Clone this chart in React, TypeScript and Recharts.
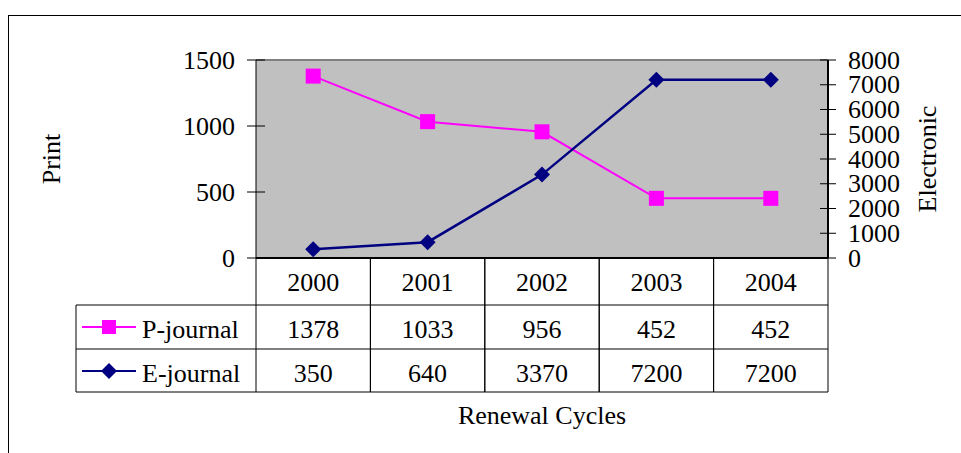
import { ComposedChart, Line, XAxis, YAxis, CartesianGrid, ReferenceLine } from "recharts";

const years = ["2000", "2001", "2002", "2003", "2004"];
const printJournals = [1378, 1033, 956, 452, 452];
const eJournals = [350, 640, 3370, 7200, 7200];
const printTicks = [0, 500, 1000, 1500];
const electronicTicks = [0, 1000, 2000, 3000, 4000, 5000, 6000, 7000, 8000];
const seriesNames = ["P-journal", "E-journal"];

const data = years.map((year, i) => ({
  year,
  print: printJournals[i],
  electronic: eJournals[i],
}));

const FONT = "'Liberation Serif', 'Times New Roman', serif";
const PINK = "#FF00FF";
const NAVY = "#000080";

function Square({ cx, cy, size = 15 }: any) {
  if (cx == null || cy == null) return null;
  return <rect x={cx - size / 2} y={cy - size / 2} width={size} height={size} fill={PINK} />;
}

function Diamond({ cx, cy, size = 8 }: any) {
  if (cx == null || cy == null) return null;
  return (
    <polygon
      points={`${cx},${cy - size} ${cx + size},${cy} ${cx},${cy + size} ${cx - size},${cy}`}
      fill={NAVY}
    />
  );
}

function LeftTick({ x, y, payload }: any) {
  const edge = x + 12;
  return (
    <g>
      <line x1={edge} x2={edge + 18} y1={y} y2={y} stroke="#000" />
      <text x={x} y={y} textAnchor="end" dominantBaseline="central" fontSize={26} fontFamily={FONT} fill="#000">
        {payload.value}
      </text>
    </g>
  );
}

function RightTick({ x, y, payload }: any) {
  const edge = x - 12;
  return (
    <g>
      <line x1={edge} x2={edge - 16} y1={y} y2={y} stroke="#000" />
      <text x={x} y={y} textAnchor="start" dominantBaseline="central" fontSize={26} fontFamily={FONT} fill="#000">
        {payload.value}
      </text>
    </g>
  );
}

// data table under the plot, one column per category tick
function TableTick({ x, y, payload, index }: any) {
  const half = payload.offset || 57;
  const left = x - half;
  const right = x + half;
  const rows = [47, 91, 134];
  const txt = { fontSize: 26, fontFamily: FONT, fill: "#000", dominantBaseline: "central" as const };
  const legendLeft = left - 180;
  return (
    <g>
      <line x1={left} x2={left} y1={y} y2={y + rows[2]} stroke="#000" />
      <line x1={right} x2={right} y1={y} y2={y + rows[2]} stroke="#000" />
      {rows.map((r) => (
        <line key={r} x1={left} x2={right} y1={y + r} y2={y + r} stroke="#000" />
      ))}
      <text x={x} y={y + 24} textAnchor="middle" {...txt}>{payload.value}</text>
      <text x={x} y={y + 71} textAnchor="middle" {...txt}>{printJournals[index]}</text>
      <text x={x} y={y + 115} textAnchor="middle" {...txt}>{eJournals[index]}</text>
      {index === 0 && (
        <g>
          <line x1={legendLeft} x2={legendLeft} y1={y + rows[0]} y2={y + rows[2]} stroke="#000" />
          {rows.map((r) => (
            <line key={r} x1={legendLeft} x2={left} y1={y + r} y2={y + r} stroke="#000" />
          ))}
          <line x1={legendLeft + 6} x2={legendLeft + 60} y1={y + 69} y2={y + 69} stroke={PINK} strokeWidth={2} />
          <Square cx={legendLeft + 33} cy={y + 69} size={14} />
          <text x={legendLeft + 66} y={y + 71} {...txt}>{seriesNames[0]}</text>
          <line x1={legendLeft + 6} x2={legendLeft + 60} y1={y + 113} y2={y + 113} stroke={NAVY} strokeWidth={2} />
          <Diamond cx={legendLeft + 33} cy={y + 113} size={8} />
          <text x={legendLeft + 66} y={y + 115} {...txt}>{seriesNames[1]}</text>
        </g>
      )}
    </g>
  );
}

function PrintLabel({ viewBox }: any) {
  const cx = viewBox.x + 51;
  const cy = viewBox.y + viewBox.height / 2;
  return (
    <text x={cx} y={cy} transform={`rotate(-90 ${cx} ${cy})`} textAnchor="middle" dominantBaseline="central" fontSize={26} fontFamily={FONT} fill="#000">
      Print
    </text>
  );
}

function ElectronicLabel({ viewBox }: any) {
  const cx = viewBox.x + 99;
  const cy = viewBox.y + viewBox.height / 2;
  return (
    <text x={cx} y={cy} transform={`rotate(-90 ${cx} ${cy})`} textAnchor="middle" dominantBaseline="central" fontSize={26} fontFamily={FONT} fill="#000">
      Electronic
    </text>
  );
}

function CycleLabel({ viewBox }: any) {
  return (
    <text x={viewBox.x + viewBox.width / 2} y={viewBox.y + 157} textAnchor="middle" dominantBaseline="central" fontSize={26} fontFamily={FONT} fill="#000">
      Renewal Cycles
    </text>
  );
}

export default function App() {
  return (
    <div style={{ position: "absolute", left: 0, top: 0, width: 961, height: 453, overflow: "hidden", background: "#fff" }}>
      <div style={{ position: "absolute", left: 8, top: 15, width: 1000, height: 500, border: "1px solid #000" }} />
      <div style={{ position: "absolute", left: 0, top: 0 }}>
        <ComposedChart width={961} height={453} data={data} margin={{ top: 60, right: 0, bottom: 0, left: 0 }}>
          <CartesianGrid fill="#C0C0C0" horizontal={false} vertical={false} yAxisId="left" />
          <ReferenceLine yAxisId="left" y={1500} stroke="#808080" strokeWidth={2} />
          <XAxis
            dataKey="year"
            scale="band"
            height={195}
            tickSize={0}
            tickMargin={0}
            tickLine={false}
            axisLine={{ stroke: "#000", strokeWidth: 2 }}
            tick={<TableTick />}
            interval={0}
            label={{ content: CycleLabel }}
          />
          <YAxis
            yAxisId="left"
            orientation="left"
            width={256}
            domain={[0, 1500]}
            ticks={printTicks}
            tickSize={9}
            tickMargin={12}
            tickLine={false}
            axisLine={{ stroke: "#000" }}
            tick={<LeftTick />}
            interval={0}
            label={{ content: PrintLabel }}
          />
          <YAxis
            yAxisId="right"
            orientation="right"
            width={133}
            domain={[0, 8000]}
            ticks={electronicTicks}
            tickSize={8}
            tickMargin={12}
            tickLine={false}
            axisLine={{ stroke: "#000", strokeWidth: 2 }}
            tick={<RightTick />}
            interval={0}
            label={{ content: ElectronicLabel }}
          />
          <Line
            yAxisId="left"
            dataKey="print"
            name={seriesNames[0]}
            stroke={PINK}
            strokeWidth={2}
            dot={(p: any) => <Square key={`s${p.index}`} cx={p.cx} cy={p.cy} />}
            isAnimationActive={false}
          />
          <Line
            yAxisId="right"
            dataKey="electronic"
            name={seriesNames[1]}
            stroke={NAVY}
            strokeWidth={2.5}
            dot={(p: any) => <Diamond key={`d${p.index}`} cx={p.cx} cy={p.cy} />}
            isAnimationActive={false}
          />
        </ComposedChart>
      </div>
    </div>
  );
}
